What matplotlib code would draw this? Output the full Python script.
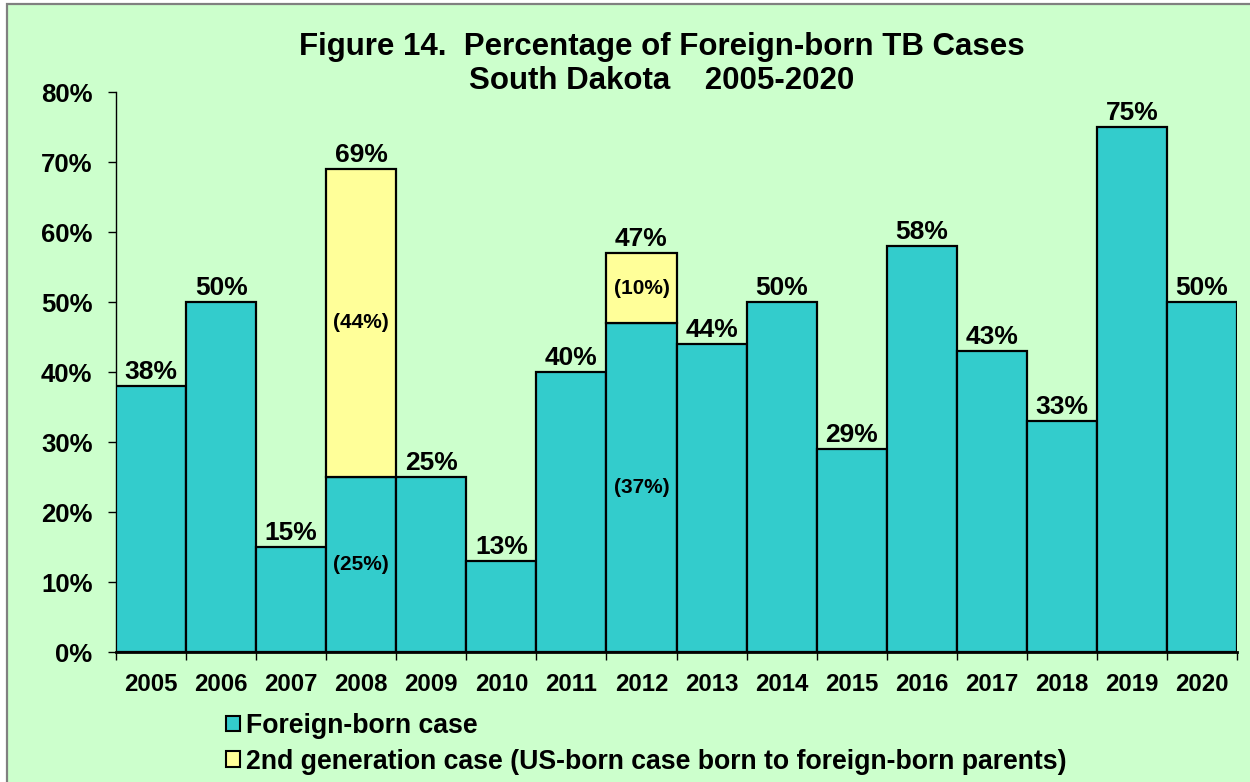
import matplotlib
matplotlib.use("Agg")
import matplotlib.pyplot as plt
from matplotlib.patches import Rectangle, Patch
import numpy as np

plt.rcParams['font.family'] = ['Liberation Sans', 'DejaVu Sans']
plt.rcParams['font.weight'] = 'bold'

years = ["2005", "2006", "2007", "2008", "2009", "2010", "2011", "2012",
         "2013", "2014", "2015", "2016", "2017", "2018", "2019", "2020"]
foreign_born = [38, 50, 15, 25, 25, 13, 40, 47, 44, 50, 29, 58, 43, 33, 75, 50]
second_gen = [0, 0, 0, 44, 0, 0, 0, 10, 0, 0, 0, 0, 0, 0, 0, 0]
top_labels = ["38%", "50%", "15%", "69%", "25%", "13%", "40%", "47%",
              "44%", "50%", "29%", "58%", "43%", "33%", "75%", "50%"]
inner_fb_labels = {"2008": "(25%)", "2012": "(37%)"}
inner_sg_labels = {"2008": "(44%)", "2012": "(10%)"}
yticks = [0, 10, 20, 30, 40, 50, 60, 70, 80]
legend_labels = ["Foreign-born case",
                 "2nd generation case (US-born case born to foreign-born parents)"]
title_line1 = "Figure 14.  Percentage of Foreign-born TB Cases"
title_line2 = "South Dakota    2005-2020"

TEAL = "#33CCCC"
YELLOW = "#FFFF99"
BG = "#CCFFCC"

W, H = 1250, 782
fig = plt.figure(figsize=(W / 100, H / 100), dpi=100)
fig.patch.set_facecolor("white")

# green chart area with gray frame
fig.add_artist(Rectangle((7 / W, -0.05), 1.2, (H - 4) / H + 0.05,
                         transform=fig.transFigure, facecolor=BG,
                         edgecolor="#808080", linewidth=1.6, zorder=0))

ax = fig.add_axes([116 / W, 1 - 652 / H, 1121 / W, (652 - 92) / H])
ax.set_facecolor("none")

x = np.arange(len(years))
fb = np.array(foreign_born)
sg = np.array(second_gen)
ax.bar(x, fb, width=1.0, color=TEAL, edgecolor="black", linewidth=1.6, zorder=3)
ax.bar(x[sg > 0], sg[sg > 0], bottom=fb[sg > 0], width=1.0, color=YELLOW,
       edgecolor="black", linewidth=1.6, zorder=3)

ax.set_xlim(-0.5, len(years) - 0.5)
ax.set_ylim(0, 80)

for s in ["top", "right"]:
    ax.spines[s].set_visible(False)
for s in ["left", "bottom"]:
    ax.spines[s].set_color("black")
    ax.spines[s].set_linewidth(1.0)
ax.spines["bottom"].set_linewidth(2.0)
ax.spines["bottom"].set_zorder(4)

ax.set_yticks(yticks)
ax.set_yticklabels([f"{v}%" for v in yticks], fontsize=18.5, fontweight="bold")
ax.tick_params(axis="y", direction="out", length=6, width=1, pad=11)

ax.set_xticks(x)
ax.set_xticklabels(years, fontsize=17.3, fontweight="bold")
ax.tick_params(axis="x", which="major", length=0, pad=15)
ax.set_xticks(np.arange(-0.5, len(years), 1.0), minor=True)
ax.tick_params(axis="x", which="minor", direction="out", length=6, width=1)

totals = fb + sg
for xi, t, lab in zip(x, totals, top_labels):
    ax.annotate(lab, (xi, t), xytext=(0, 5), textcoords="offset points",
                ha="center", va="baseline", fontsize=19, fontweight="bold",
                zorder=5)

for i, yr in enumerate(years):
    if yr in inner_fb_labels:
        ax.text(i, fb[i] / 2, inner_fb_labels[yr], ha="center", va="center",
                fontsize=15, fontweight="bold", zorder=5)
    if yr in inner_sg_labels:
        ax.text(i, fb[i] + sg[i] / 2, inner_sg_labels[yr], ha="center",
                va="center", fontsize=15, fontweight="bold", zorder=5)

fig.text(662 / W, 1 - 47 / H, title_line1, ha="center", va="center",
         fontsize=22.5, fontweight="bold")
fig.text(662 / W, 1 - 81 / H, title_line2, ha="center", va="center",
         fontsize=22.5, fontweight="bold")

handles = [Patch(facecolor=TEAL, edgecolor="black", linewidth=1.5),
           Patch(facecolor=YELLOW, edgecolor="black", linewidth=1.5)]
fig.legend(handles, legend_labels, loc="upper left",
           bbox_to_anchor=(226 / W, 1 - 713 / H), frameon=False,
           handlelength=0.52, handleheight=0.52,
           handletextpad=0.22, labelspacing=0.36, borderpad=0,
           borderaxespad=0, prop={"weight": "bold", "size": 19.2})

fig.savefig("out.png", dpi=100, facecolor=fig.get_facecolor())
